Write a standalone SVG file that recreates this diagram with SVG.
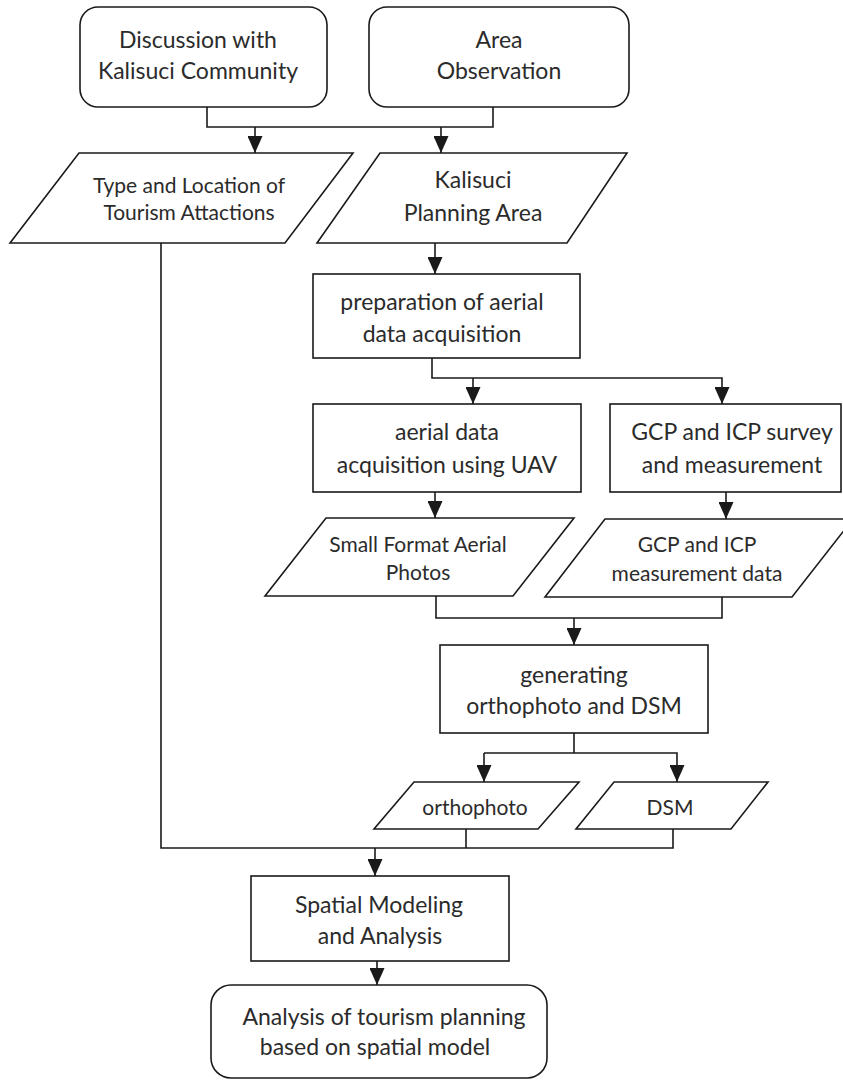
<svg xmlns="http://www.w3.org/2000/svg" width="843" height="1080" viewBox="0 0 843 1080">
<style>
  .shape { fill: #ffffff; stroke: #1a1a1a; stroke-width: 1.6; }
  .conn { fill: none; stroke: #1a1a1a; stroke-width: 1.6; }
  .t { font-family: Lato, "Open Sans", "Liberation Sans", sans-serif; fill: #2b2b2b; text-anchor: middle; }
  .big { font-size: 23px; }
  .small { font-size: 21px; }
</style>
<defs>
  <marker id="arrow" markerUnits="userSpaceOnUse" markerWidth="17" markerHeight="15" viewBox="0 0 17 15" refX="17" refY="7.5" orient="auto">
    <path d="M0,0 L17,7.5 L0,15 z" fill="#1a1a1a"/>
  </marker>
</defs>
<rect width="843" height="1080" fill="#ffffff"/>

<g id="connectors">
  <path class="conn" d="M207,107 V127 H493 V107"/>
  <path class="conn" d="M255,127 V153" marker-end="url(#arrow)"/>
  <path class="conn" d="M441,127 V153" marker-end="url(#arrow)"/>
  <path class="conn" d="M435,243 V274" marker-end="url(#arrow)"/>
  <path class="conn" d="M432,358 V378 H722 V404" marker-end="url(#arrow)"/>
  <path class="conn" d="M473,378 V404" marker-end="url(#arrow)"/>
  <path class="conn" d="M435,492 V518" marker-end="url(#arrow)"/>
  <path class="conn" d="M726,492 V519" marker-end="url(#arrow)"/>
  <path class="conn" d="M436,596 V618 H722 V597"/>
  <path class="conn" d="M574,618 V645" marker-end="url(#arrow)"/>
  <path class="conn" d="M574,733 V753"/>
  <path class="conn" d="M484,753 H677 V782" marker-end="url(#arrow)"/>
  <path class="conn" d="M484,753 V782" marker-end="url(#arrow)"/>
  <path class="conn" d="M161,243 V848 H673 V829"/>
  <path class="conn" d="M466,829 V848"/>
  <path class="conn" d="M375,848 V876" marker-end="url(#arrow)"/>
  <path class="conn" d="M377,961 V985" marker-end="url(#arrow)"/>
</g>

<g id="discussion">
  <rect class="shape" x="80" y="7" width="247" height="100" rx="18" ry="18"/>
  <text class="t big" x="198" y="48">Discussion with</text>
  <text class="t big" x="198" y="79">Kalisuci Community</text>
</g>

<g id="area-observation">
  <rect class="shape" x="369" y="7" width="260" height="100" rx="18" ry="18"/>
  <text class="t big" x="499" y="48">Area</text>
  <text class="t big" x="499" y="79">Observation</text>
</g>

<g id="tourism-attractions">
  <polygon class="shape" points="79,153 353,153 285,243 10,243"/>
  <text class="t small" x="189" y="193">Type and Location of</text>
  <text class="t small" x="189" y="220">Tourism Attactions</text>
</g>

<g id="planning-area">
  <polygon class="shape" points="380,153 627,153 567,243 317,243"/>
  <text class="t big" x="473" y="188">Kalisuci</text>
  <text class="t big" x="473" y="221">Planning Area</text>
</g>

<g id="preparation">
  <rect class="shape" x="313" y="274" width="267" height="84"/>
  <text class="t big" x="442" y="310">preparation of aerial</text>
  <text class="t big" x="442" y="342">data acquisition</text>
</g>

<g id="uav-acquisition">
  <rect class="shape" x="313" y="404" width="268" height="88"/>
  <text class="t big" x="447" y="440">aerial data</text>
  <text class="t big" x="447" y="473">acquisition using UAV</text>
</g>

<g id="gcp-survey">
  <rect class="shape" x="610" y="404" width="231" height="88"/>
  <text class="t big" x="732" y="440">GCP and ICP survey</text>
  <text class="t big" x="732" y="473">and measurement</text>
</g>

<g id="aerial-photos">
  <polygon class="shape" points="326,518 574,518 513,596 265,596"/>
  <text class="t small" x="418" y="552">Small Format Aerial</text>
  <text class="t small" x="418" y="580">Photos</text>
</g>

<g id="gcp-data">
  <polygon class="shape" points="605,519 853,519 792,597 545,597"/>
  <text class="t small" x="697" y="552">GCP and ICP</text>
  <text class="t small" x="697" y="581">measurement data</text>
</g>

<g id="generating">
  <rect class="shape" x="440" y="645" width="268" height="88"/>
  <text class="t big" x="574" y="683">generating</text>
  <text class="t big" x="574" y="714">orthophoto and DSM</text>
</g>

<g id="orthophoto">
  <polygon class="shape" points="414,782 579,782 538,829 374,829"/>
  <text class="t small" x="475" y="815">orthophoto</text>
</g>

<g id="dsm">
  <polygon class="shape" points="614,782 768,782 731,829 576,829"/>
  <text class="t small" x="670" y="815">DSM</text>
</g>

<g id="spatial-modeling">
  <rect class="shape" x="251" y="876" width="258" height="85"/>
  <text class="t big" x="379" y="913">Spatial Modeling</text>
  <text class="t big" x="380" y="944">and Analysis</text>
</g>

<g id="tourism-planning">
  <rect class="shape" x="211" y="985" width="336" height="93" rx="20" ry="20"/>
  <text class="t big" x="384" y="1025">Analysis of tourism planning</text>
  <text class="t big" x="375" y="1055">based on spatial model</text>
</g>
</svg>
